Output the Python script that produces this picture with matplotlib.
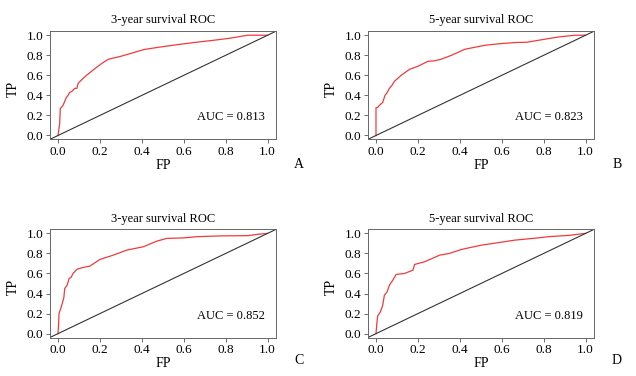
#!/usr/bin/env python3

"""ROC curves for 3- and 5-year survival, two cohorts."""

import matplotlib
matplotlib.use("Agg")
import matplotlib.pyplot as plt

plt.rcParams["font.family"] = ["Liberation Serif", "DejaVu Serif"]

# panel A: 3-year, AUC 0.813
fp_a = [0.0, 0.004, 0.008, 0.011, 0.018, 0.024, 0.032, 0.04, 0.048, 0.056, 0.066, 0.08,
        0.09, 0.096, 0.11, 0.136, 0.16, 0.184, 0.21, 0.24, 0.27, 0.30, 0.35, 0.41, 0.48,
        0.584, 0.66, 0.744, 0.82, 0.904, 0.95, 1.0]
tp_a = [0.0, 0.06, 0.117, 0.27, 0.285, 0.30, 0.34, 0.38, 0.40, 0.43, 0.44, 0.47,
        0.47, 0.52, 0.55, 0.60, 0.64, 0.68, 0.72, 0.76, 0.775, 0.79, 0.82, 0.857, 0.88,
        0.91, 0.93, 0.95, 0.97, 1.0, 1.0, 1.0]

# panel B: 5-year, AUC 0.823
fp_b = [0.0, 0.0, 0.008, 0.016, 0.032, 0.043, 0.054, 0.064, 0.076, 0.088, 0.104, 0.12,
        0.14, 0.16, 0.20, 0.248, 0.28, 0.31, 0.36, 0.424, 0.52, 0.60, 0.664, 0.72, 0.776,
        0.872, 0.95, 1.0]
tp_b = [0.0, 0.277, 0.28, 0.30, 0.33, 0.40, 0.43, 0.47, 0.50, 0.54, 0.57, 0.60,
        0.63, 0.66, 0.69, 0.74, 0.745, 0.76, 0.80, 0.86, 0.90, 0.917, 0.927, 0.93, 0.95,
        0.983, 1.0, 1.0]

# panel C: 3-year, AUC 0.852
fp_c = [0.0, 0.003, 0.005, 0.016, 0.024, 0.028, 0.032, 0.043, 0.053, 0.062, 0.072, 0.091,
        0.12, 0.152, 0.20, 0.264, 0.328, 0.408, 0.472, 0.52, 0.60, 0.664, 0.78, 0.904,
        0.95, 1.0]
tp_c = [0.0, 0.1, 0.2, 0.27, 0.33, 0.36, 0.45, 0.48, 0.55, 0.56, 0.60, 0.643,
        0.66, 0.673, 0.74, 0.783, 0.833, 0.867, 0.923, 0.95, 0.955, 0.967, 0.975, 0.977,
        0.99, 1.0]

# panel D: 5-year, AUC 0.819
fp_d = [0.0, 0.004, 0.008, 0.021, 0.032, 0.04, 0.053, 0.064, 0.08, 0.096, 0.136, 0.176,
        0.18, 0.184, 0.232, 0.304, 0.35, 0.408, 0.504, 0.56, 0.664, 0.75, 0.824, 0.92, 1.0]
tp_d = [0.0, 0.1, 0.177, 0.217, 0.283, 0.383, 0.417, 0.483, 0.533, 0.59, 0.60, 0.633,
        0.66, 0.69, 0.717, 0.783, 0.80, 0.84, 0.883, 0.90, 0.933, 0.95, 0.967, 0.98, 1.0]

titles = ["3-year survival ROC", "5-year survival ROC", "3-year survival ROC", "5-year survival ROC"]
aucs = ["0.813", "0.823", "0.852", "0.819"]
letters = ["A", "B", "C", "D"]
curves = [(fp_a, tp_a), (fp_b, tp_b), (fp_c, tp_c), (fp_d, tp_d)]
ticks = [0.0, 0.2, 0.4, 0.6, 0.8, 1.0]

fig = plt.figure(figsize=(6.36, 3.76), dpi=100)
boxes = [[0.078, 0.629, 0.356, 0.288], [0.578, 0.629, 0.356, 0.288],
         [0.078, 0.102, 0.356, 0.288], [0.578, 0.102, 0.356, 0.288]]

for i, (fp, tp) in enumerate(curves):
    ax = fig.add_axes(boxes[i])
    ax.plot(fp, tp, color="#f03a3e", lw=0.9)
    ax.plot([-0.04, 1.04], [-0.04, 1.04], color="#333333", lw=0.8)
    ax.set_xlim(-0.04, 1.04)
    ax.set_ylim(-0.04, 1.04)
    ax.set_xticks(ticks)
    ax.set_yticks(ticks)
    ax.set_xticklabels(["%.1f" % t for t in ticks])
    ax.set_yticklabels(["%.1f" % t for t in ticks])
    ax.tick_params(labelsize=9.5, length=3, width=0.6, color="#555555", pad=1.5)
    for sp in ax.spines.values():
        sp.set_color("#666666")
        sp.set_linewidth(0.7)
    ax.text(0.5, 1.10, titles[i], transform=ax.transAxes, ha="center", va="center", fontsize=9)
    ax.text(0.5, -0.24, "FP", transform=ax.transAxes, ha="center", va="center", fontsize=10)
    ax.text(-0.16, 0.47, "TP", transform=ax.transAxes, ha="center", va="center",
            rotation=90, fontsize=10)
    ax.text(0.985, 0.18, "AUC = " + aucs[i], ha="right", va="center", fontsize=9)
    ax.text(1.10, -0.23 if i < 2 else -0.21, letters[i], transform=ax.transAxes,
            ha="center", va="center", fontsize=10)

fig.savefig("out.png", dpi=100)
